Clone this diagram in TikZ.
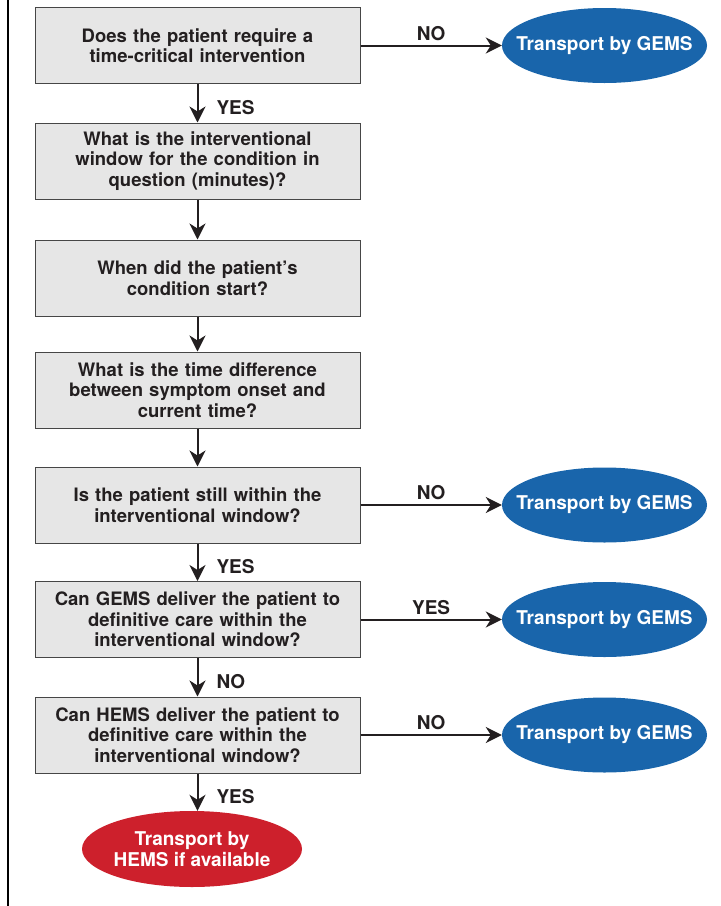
\documentclass[tikz,border=0pt]{standalone}
\usepackage{fontspec}
\setmainfont{TeX Gyre Heros}
\usetikzlibrary{shapes.geometric,arrows.meta}

\definecolor{boxfill}{RGB}{230,230,230}
\definecolor{boxline}{RGB}{70,70,70}
\definecolor{gemsblue}{RGB}{25,101,171}
\definecolor{hemsred}{RGB}{205,32,44}
\definecolor{textdark}{RGB}{35,31,32}

\tikzset{
    question/.style={draw=boxline, fill=boxfill, line width=1pt, minimum width=325pt,
        minimum height=76pt, text width=320pt, align=center, inner sep=0pt,
        text=textdark, font=\fontsize{18.5}{20.5}\selectfont\bfseries},
    gems/.style={ellipse, fill=gemsblue, minimum width=205pt, minimum height=75pt,
        inner xsep=-16pt, inner ysep=0pt, text=white, font=\fontsize{19}{20.5}\selectfont\bfseries},
    hems/.style={ellipse, fill=hemsred, minimum width=220pt, minimum height=76pt,
        inner xsep=-2pt, inner ysep=0pt, align=center, text=white,
        font=\fontsize{19}{20.5}\selectfont\bfseries},
    flow/.style={line width=2pt, color=textdark, -{Stealth[length=16pt,width=16pt,inset=5pt]}},
    answer/.style={text=textdark, font=\fontsize{19}{20}\selectfont\bfseries, inner sep=2pt}
}

\begin{document}
\begin{tikzpicture}[x=1pt, y=-1pt]

    \useasboundingbox (0, 0) rectangle (721, 906);

    % trait vertical a gauche
    \draw[line width=2pt] (8, 0) -- (8, 906);

    % questions
    \node[question] (q1) at (197.5, 45.5) {Does the patient require a\\time-critical intervention};
    \node[question] (q2) at (197.5, 161) {What is the interventional\\window for the condition in\\question (minutes)?};
    \node[question] (q3) at (197.5, 278) {When did the patient’s\\condition start?};
    \node[question] (q4) at (197.5, 390) {What is the time difference\\between symptom onset and\\current time?};
    \node[question] (q5) at (197.5, 505) {Is the patient still within the\\interventional window?};
    \node[question] (q6) at (197.5, 619.5) {Can GEMS deliver the patient to\\definitive care within the\\interventional window?};
    \node[question] (q7) at (197.5, 735) {Can HEMS deliver the patient to\\definitive care within the\\interventional window?};

    % issues
    \node[gems] (g1) at (604.5, 45.5) {Transport by GEMS};
    \node[gems] (g2) at (604.5, 505) {Transport by GEMS};
    \node[gems] (g3) at (604.5, 619.5) {Transport by GEMS};
    \node[gems] (g4) at (604.5, 735) {Transport by GEMS};
    \node[hems] (h) at (192, 849) {Transport by\\HEMS if available};

    % fleches verticales
    \draw[flow] (q1) -- node[answer, right=16pt, yshift=-4pt] {YES} (q2);
    \draw[flow] (q2) -- (q3);
    \draw[flow] (q3) -- (q4);
    \draw[flow] (q4) -- (q5);
    \draw[flow] (q5) -- node[answer, right=16pt, yshift=-4pt] {YES} (q6);
    \draw[flow] (q6) -- node[answer, right=16pt, yshift=-4pt] {NO} (q7);
    \draw[flow] (q7.south) -- node[answer, right=16pt, yshift=-4pt] {YES} (q7.south |- h.north);

    % fleches horizontales
    \draw[flow] (q1) -- node[answer, above=2pt] {NO} (g1);
    \draw[flow] (q5) -- node[answer, above=2pt] {NO} (g2);
    \draw[flow] (q6) -- node[answer, above=2pt] {YES} (g3);
    \draw[flow] (q7) -- node[answer, above=2pt] {NO} (g4);

\end{tikzpicture}
\end{document}
